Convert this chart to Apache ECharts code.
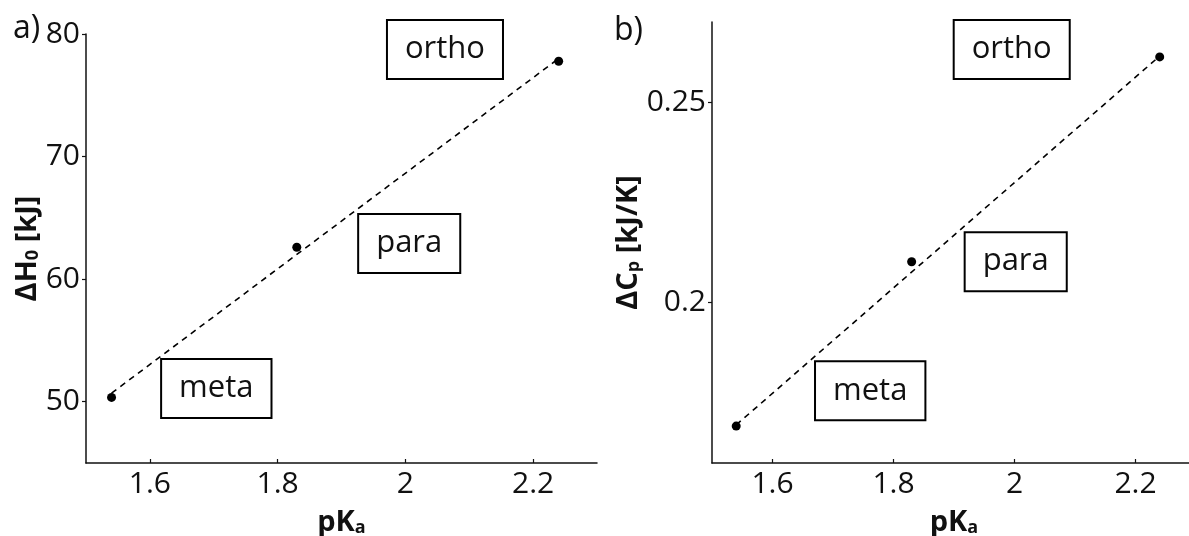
<!DOCTYPE html>
<html>
<head>
<meta charset="utf-8">
<script src="https://cdn.jsdelivr.net/npm/echarts@6/dist/echarts.min.js"></script>
<style>
  html, body { margin: 0; padding: 0; background: #fff; }
  #chart { width: 1189px; height: 536px; }
</style>
</head>
<body>
<div id="chart"></div>
<script>
// Substituent positions and their pKa values
const isomers = ['meta', 'para', 'ortho'];
const pKa = [1.54, 1.83, 2.24];

// Panel a: enthalpy, panel b: heat capacity change
const dH0 = [50.35, 62.6, 77.78];
const dCp = [0.1692, 0.2102, 0.2613];

// Dashed linear fit end points (pKa, value)
const fitX = [1.54, 2.24];
const fitH = [50.7, 78.0];
const fitC = [0.1695, 0.2615];

// Tick values
const xTicks = [1.6, 1.8, 2.0, 2.2];
const hTicks = [50, 60, 70, 80];
const cTicks = [0.2, 0.25];

// Box-label anchors in data units (pKa, value), in isomer order
const tagXa = [1.704, 2.006, 2.062];
const tagYa = [51.08, 62.91, 78.74];
const tagXb = [1.7615, 2.002, 1.9954];
const tagYb = [0.17804, 0.21022, 0.26317];

const FONT = '"Open Sans", "Noto Sans", sans-serif';
const INK = '#111';

function pts(xs, ys) { return xs.map((x, i) => [x, ys[i]]); }
function tags(xs, ys) {
  return isomers.map((n, i) => ({ name: n, value: [xs[i], ys[i]] }));
}

const nameRich = {
  m: { fontFamily: FONT, fontWeight: 'bold', fontSize: 29, color: INK, lineHeight: 34, verticalAlign: 'bottom' },
  s: { fontFamily: FONT, fontWeight: 'bold', fontSize: 18, color: INK, lineHeight: 27, verticalAlign: 'bottom' }
};

function xAxisCfg(gi) {
  return {
    gridIndex: gi, type: 'value', min: 1.5, max: 2.3,
    axisLine: { show: true, onZero: false, lineStyle: { color: INK, width: 1.5 } },
    axisTick: { show: true, inside: true, length: 4, customValues: xTicks, lineStyle: { color: INK, width: 1.2 } },
    axisLabel: { customValues: xTicks, fontFamily: FONT, fontSize: 30, color: INK, margin: 6,
                 formatter: v => String(+v.toFixed(2)) },
    splitLine: { show: false },
    name: '{m|pK}{s|a}', nameLocation: 'middle', nameGap: 40,
    nameTextStyle: { rich: nameRich }
  };
}

function yAxisCfg(gi, min, max, ticks, nameMain, nameSub, nameRest, fmt) {
  return {
    gridIndex: gi, type: 'value', min: min, max: max,
    axisLine: { show: true, onZero: false, lineStyle: { color: INK, width: 1.5 } },
    axisTick: { show: true, inside: false, length: 4, customValues: ticks, lineStyle: { color: INK, width: 1.2 } },
    axisLabel: { customValues: ticks, fontFamily: FONT, fontSize: 30, color: INK, margin: 6, formatter: fmt },
    splitLine: { show: false },
    name: '{m|' + nameMain + '}{s|' + nameSub + '}{m|' + nameRest + '}',
    nameLocation: 'middle', nameRotate: 90, nameGap: 44,
    nameTextStyle: { rich: nameRich }
  };
}

function tagSeries(xi, yi, data) {
  return {
    type: 'scatter', xAxisIndex: xi, yAxisIndex: yi, symbolSize: 0, silent: true,
    data: data,
    itemStyle: { opacity: 1 },
    label: {
      show: true, position: 'inside', formatter: '{b}', opacity: 1,
      fontFamily: FONT, fontSize: 31, color: INK,
      borderColor: '#000', borderWidth: 2, padding: [12, 17, 14, 17], backgroundColor: '#fff'
    },
    z: 5
  };
}

function dotSeries(xi, yi, data) {
  return {
    type: 'scatter', xAxisIndex: xi, yAxisIndex: yi, data: data,
    symbolSize: 9, itemStyle: { color: '#000', opacity: 1 }, z: 4
  };
}

function fitSeries(xi, yi, data) {
  return {
    type: 'line', xAxisIndex: xi, yAxisIndex: yi, data: data, symbol: 'none', silent: true,
    lineStyle: { color: '#000', width: 1.6, type: [6, 5] }
  };
}

const chart = echarts.init(document.getElementById('chart'), null, { renderer: 'canvas' });
chart.setOption({
  backgroundColor: '#fff',
  animation: false,
  title: [
    { text: 'a)', left: 8, top: 8, textStyle: { fontFamily: FONT, fontSize: 32, fontWeight: 'normal', color: INK } },
    { text: 'b)', left: 609, top: 10, textStyle: { fontFamily: FONT, fontSize: 32, fontWeight: 'normal', color: INK } }
  ],
  grid: [
    { left: 86, top: 34, width: 511, height: 429, containLabel: false, outerBoundsMode: 'none' },
    { left: 712, top: 22, width: 484, height: 441, containLabel: false, outerBoundsMode: 'none' }
  ],
  xAxis: [xAxisCfg(0), xAxisCfg(1)],
  yAxis: [
    yAxisCfg(0, 45, 80, hTicks, '\u0394H', '0', ' [kJ]', v => String(v)),
    yAxisCfg(1, 0.16, 0.27, cTicks, '\u0394C', 'p', ' [kJ/K]', v => String(+v.toFixed(2)))
  ],
  series: [
    fitSeries(0, 0, pts(fitX, fitH)),
    dotSeries(0, 0, pts(pKa, dH0)),
    fitSeries(1, 1, pts(fitX, fitC)),
    dotSeries(1, 1, pts(pKa, dCp)),
    tagSeries(0, 0, tags(tagXa, tagYa)),
    tagSeries(1, 1, tags(tagXb, tagYb))
  ]
});
</script>
</body>
</html>
